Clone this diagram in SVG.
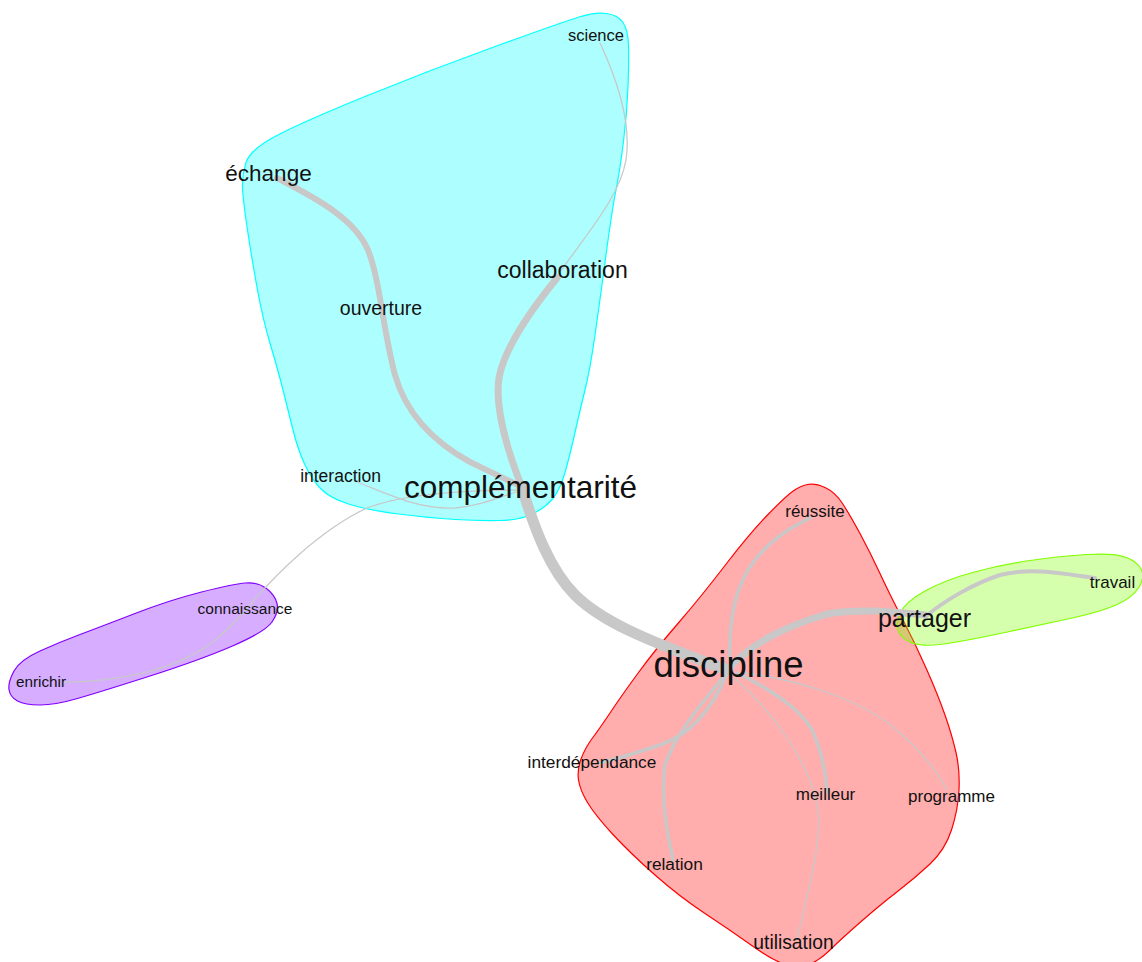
<svg xmlns="http://www.w3.org/2000/svg" width="1142" height="962" viewBox="0 0 1142 962">
<style>
.blob{stroke-width:1.2;fill-opacity:0.32}
.edge{fill:none;stroke:#c8c8c8;stroke-linecap:round;stroke-linejoin:round}
.thin{stroke-width:1.3}
.mid{stroke-width:3.5}
text{font-family:"Liberation Sans",Arial,sans-serif;fill:#111;text-anchor:middle}
</style>
<rect width="1142" height="962" fill="#ffffff"/>
<g id="groups">
<path id="group-cyan" class="blob" fill="#00ffff" stroke="#00ffff" d="M 275 136.5 Q 300 123 365 96.5 Q 430 70 496.5 46 Q 563 22 579 17 Q 595 12 606.5 13.5 Q 618 15 623 22.5 Q 628 30 628.5 45 Q 629 60 628 86.5 Q 627 113 623.5 141.5 Q 620 170 616 190 Q 612 210 606 255 Q 600 300 595 335 Q 590 370 585 390 Q 580 410 575 432.5 Q 570 455 565 472.5 Q 560 490 552.5 499 Q 545 508 532.5 514 Q 520 520 500 520.5 Q 480 521 455 519.5 Q 430 518 398.5 514 Q 367 510 348.5 504 Q 330 498 321 489 Q 312 480 305 465 Q 298 450 293 430 Q 288 410 283 390 Q 278 370 270.5 345 Q 263 320 257.5 290 Q 252 260 247.5 230 Q 243 200 242.5 187.5 Q 242 175 246 162.5 Q 250 150 275 136.5 Z"/>
<path id="group-red" class="blob" fill="#ff0000" stroke="#ff0000" d="M 825 487.5 Q 835 492 842.5 503.5 Q 850 515 860 533.5 Q 870 552 880 573.5 Q 890 595 902.5 619 Q 915 643 926.5 669 Q 938 695 945 715 Q 952 735 956 752.5 Q 960 770 959 790 Q 958 810 951.5 830 Q 945 850 930 864 Q 915 878 897.5 891.5 Q 880 905 860 922.5 Q 840 940 830 950 Q 820 960 810 964 Q 800 968 787.5 965 Q 775 962 752.5 946 Q 730 930 705 913.5 Q 680 897 655 875 Q 630 853 612.5 834 Q 595 815 587.5 802.5 Q 580 790 578.5 780 Q 577 770 581 759 Q 585 748 592.5 738 Q 600 728 611 711.5 Q 622 695 638.5 672.5 Q 655 650 677.5 624 Q 700 598 725 565.5 Q 750 533 767.5 515 Q 785 497 792.5 491.5 Q 800 486 807.5 484.5 Q 815 483 825 487.5 Z"/>
<path id="group-green" class="blob" fill="#80ff00" stroke="#80ff00" d="M 900 613.5 Q 905 602 925 591 Q 945 580 972.5 572.5 Q 1000 565 1030 560.5 Q 1060 556 1087.5 554.5 Q 1115 553 1126.5 557.5 Q 1138 562 1141.5 570 Q 1145 578 1138.5 588 Q 1132 598 1116 605 Q 1100 612 1070 618.5 Q 1040 625 1005 632.5 Q 970 640 947.5 643.5 Q 925 647 914 643.5 Q 903 640 899 632.5 Q 895 625 900 613.5 Z"/>
<path id="group-purple" class="blob" fill="#8000ff" stroke="#8000ff" d="M 14 671 Q 20 660 40 651 Q 60 642 80 634.5 Q 100 627 135 613.5 Q 170 600 201.5 592 Q 233 584 245.5 583 Q 258 582 266.5 588.5 Q 275 595 277 603.5 Q 279 612 272 622 Q 265 632 232.5 646 Q 200 660 150 676 Q 100 692 77.5 698.5 Q 55 705 40 705 Q 25 705 17.5 701 Q 10 697 9 689.5 Q 8 682 14 671 Z"/>
</g>
<g id="connectors">
<path class="edge" stroke-width="7" d="M 557 278 C 535 305, 505 345, 499 378 C 495 405, 505 445, 523 490"/>
<path class="edge" stroke-width="11" d="M 522 488 C 535 530, 550 570, 575 595 C 600 620, 640 638, 727 670"/>
<path class="edge" stroke-width="6" d="M 277 178 C 320 200, 355 220, 368 250 C 380 280, 383 330, 395 375 C 405 410, 430 440, 470 462 L 522 487"/>
<path class="edge thin" d="M 600 43 C 615 75, 632 120, 626 160 C 620 195, 590 230, 560 272"/>
<path class="edge thin" d="M 357 482 C 390 495, 420 510, 455 508 C 480 506, 500 497, 522 490"/>
<path class="edge thin" d="M 250 605 C 275 575, 320 530, 367 508 C 400 495, 460 490, 522 490"/>
<path class="edge thin" d="M 62 682 C 130 682, 185 665, 215 640 C 230 628, 242 615, 250 605"/>
<path class="edge" stroke-width="7" d="M 727 670 C 750 645, 780 628, 827 614 C 860 608, 895 612, 925 615"/>
<path class="edge" stroke-width="4" d="M 925 617 C 945 600, 975 583, 1000 575 C 1030 567, 1065 574, 1095 578"/>
<path class="edge mid" d="M 730 668 C 728 620, 735 585, 755 560 C 770 540, 790 528, 810 518"/>
<path class="edge mid" d="M 727 673 C 712 710, 690 735, 660 745 C 640 752, 620 758, 600 763"/>
<path class="edge mid" d="M 725 675 C 700 705, 675 735, 665 765 C 660 800, 668 835, 673 860"/>
<path class="edge mid" d="M 738 673 C 770 690, 800 708, 812 730 C 822 752, 826 772, 827 792"/>
<path class="edge thin" d="M 735 678 C 770 710, 810 760, 818 810 C 822 850, 805 900, 797 940"/>
<path class="edge thin" d="M 745 673 C 800 680, 860 700, 893 727 C 915 745, 935 768, 947 790"/>
</g>
<g id="node-science"><text x="596" y="41" font-size="16.5">science</text></g>
<g id="node-echange"><text x="268.5" y="181" font-size="22.5">échange</text></g>
<g id="node-collaboration"><text x="562.5" y="278" font-size="23">collaboration</text></g>
<g id="node-ouverture"><text x="381" y="315" font-size="19.5">ouverture</text></g>
<g id="node-interaction"><text x="340.5" y="482" font-size="17.5">interaction</text></g>
<g id="node-complementarite"><text x="520.5" y="498" font-size="31.5">complémentarité</text></g>
<g id="node-connaissance"><text x="245" y="614" font-size="15.5">connaissance</text></g>
<g id="node-enrichir"><text x="41" y="687" font-size="15.3">enrichir</text></g>
<g id="node-reussite"><text x="815" y="517" font-size="17">réussite</text></g>
<g id="node-partager"><text x="924.5" y="627" font-size="25">partager</text></g>
<g id="node-travail"><text x="1112.5" y="588" font-size="17">travail</text></g>
<g id="node-discipline"><text x="728.5" y="677" font-size="36.5">discipline</text></g>
<g id="node-interdependance"><text x="592" y="768" font-size="17.3">interdépendance</text></g>
<g id="node-meilleur"><text x="825.5" y="800" font-size="17">meilleur</text></g>
<g id="node-programme"><text x="951.5" y="802" font-size="17">programme</text></g>
<g id="node-relation"><text x="674.5" y="870" font-size="17.3">relation</text></g>
<g id="node-utilisation"><text x="793.5" y="949" font-size="19.3">utilisation</text></g>
</svg>
